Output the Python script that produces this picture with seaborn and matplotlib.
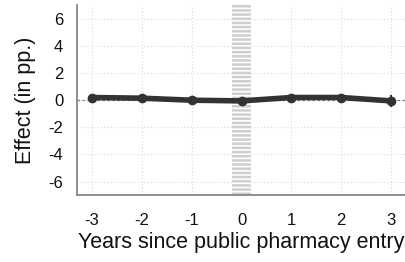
import numpy as np
import pandas as pd
import matplotlib
matplotlib.use("Agg")
import matplotlib.pyplot as plt
import seaborn as sns

years = [-3, -2, -1, 0, 1, 2, 3]
effect = [0.2, 0.15, 0.0, -0.05, 0.2, 0.2, -0.05]
ci_low = [0.05, 0.05, -0.1, -0.15, 0.05, 0.05, -0.5]
ci_high = [0.35, 0.25, 0.1, 0.05, 0.35, 0.35, 0.4]
yticks = [-6, -4, -2, 0, 2, 4, 6]

sns.set_theme(style="white")
plt.rcParams['font.family'] = ['Liberation Sans', 'DejaVu Sans']
plt.rcParams['hatch.linewidth'] = 1.8
plt.rcParams['hatch.color'] = "#cfcfcf"

df = pd.DataFrame({"year": years, "effect": effect})

fig, ax = plt.subplots(figsize=(4.06, 2.62), dpi=100)
fig.subplots_adjust(left=0.19, right=1.0, top=0.98, bottom=0.255)

ax.set_xlim(-3.3, 3.3)
ax.set_ylim(-7, 7)

# hatched band at event time
ax.axvspan(-0.19, 0.19, facecolor="white", edgecolor="#cfcfcf", hatch="----", linewidth=0, zorder=1)

for x in years:
    ax.axvline(x, color="#d9d9d9", linestyle=(0, (1, 2)), linewidth=0.8, zorder=0.5)
for y in yticks:
    ax.axhline(y, color="#d9d9d9", linestyle=(0, (1, 2)), linewidth=0.8, zorder=0.5)
ax.axhline(0, color="#808080", linestyle=(0, (2, 2)), linewidth=0.9, zorder=1.5)

ax.vlines(years, ci_low, ci_high, color="#333333", linewidth=1.5, zorder=3)
sns.lineplot(data=df, x="year", y="effect", ax=ax, color="#333333", linewidth=4,
             marker="o", markersize=7, markeredgewidth=0, zorder=4)

ax.set_xticks(years)
ax.set_xticklabels([str(v) for v in years])
ax.set_yticks(yticks)
ax.set_yticklabels([str(v) for v in yticks])
ax.tick_params(axis="both", labelsize=12, length=5, width=1.0, color="#888888", direction="out", labelcolor="#111111")
ax.tick_params(axis="x", pad=8)
ax.tick_params(axis="y", pad=5)
ax.set_xlabel("Years since public pharmacy entry", fontsize=15.5, color="#111111", labelpad=3)
ax.set_ylabel("Effect (in pp.)", fontsize=15.5, color="#111111", labelpad=9)

for s in ["top", "right"]:
    ax.spines[s].set_visible(False)
for s in ["left", "bottom"]:
    ax.spines[s].set_color("#888888")
    ax.spines[s].set_linewidth(1.3)

fig.savefig("out.png", dpi=100)
